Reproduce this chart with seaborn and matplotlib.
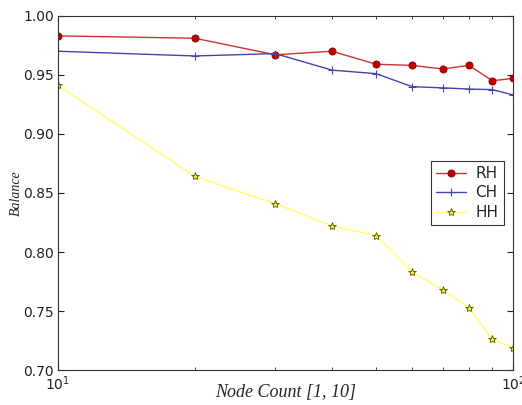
import matplotlib
matplotlib.use("Agg")
import matplotlib.pyplot as plt
import matplotlib.ticker as mticker
import seaborn as sns
import pandas as pd

nodes = [10, 20, 30, 40, 50, 60, 70, 80, 90, 100]
rh = [0.983, 0.981, 0.967, 0.970, 0.959, 0.958, 0.955, 0.958, 0.945, 0.947]
ch = [0.970, 0.966, 0.968, 0.954, 0.951, 0.940, 0.939, 0.938, 0.9375, 0.933]
hh = [0.941, 0.864, 0.841, 0.822, 0.814, 0.783, 0.768, 0.753, 0.726, 0.719]
yticks = [0.70, 0.75, 0.80, 0.85, 0.90, 0.95, 1.00]

sns.set_style("white", {"xtick.direction": "in", "ytick.direction": "in",
                        "axes.edgecolor": "#333333", "xtick.bottom": True,
                        "ytick.left": True, "xtick.top": True, "ytick.right": True})
plt.rcParams["font.family"] = ["DejaVu Sans"]

fig, ax = plt.subplots(figsize=(5.22, 4.05), dpi=100)
fig.subplots_adjust(left=0.111, right=0.983, top=0.961, bottom=0.086)

df = pd.DataFrame({"n": nodes, "RH": rh, "CH": ch, "HH": hh})

sns.lineplot(data=df, x="n", y="RH", ax=ax, color="#cc3333", marker="o",
             markersize=5, markerfacecolor="#bb0000", markeredgecolor="#990000",
             linewidth=1.0, label="RH")
sns.lineplot(data=df, x="n", y="CH", ax=ax, color="#4444aa", marker="+",
             markersize=6, markeredgecolor="#4444aa", markeredgewidth=0.8,
             linewidth=1.0, label="CH")
sns.lineplot(data=df, x="n", y="HH", ax=ax, color="#ffff66", marker="*",
             markersize=6, markerfacecolor="#eeee44", markeredgecolor="#555500",
             markeredgewidth=0.6, linewidth=1.0, label="HH")

ax.set_xscale("log")
ax.set_xlim(10, 100)
ax.set_ylim(0.70, 1.00)
ax.xaxis.set_minor_formatter(mticker.NullFormatter())
ax.set_yticks(yticks)
ax.set_yticklabels([f"{v:.2f}" for v in yticks])
ax.tick_params(which="both", direction="in", top=True, right=True, labelsize=10,
               colors="#222222")
ax.tick_params(which="major", length=4, pad=3)
ax.tick_params(which="minor", length=2)
ax.set_xlabel("Node Count [1, 10]", family="Liberation Serif", style="italic",
              fontsize=13)
ax.set_ylabel("Balance", family="Liberation Serif", style="italic", fontsize=10)
ax.xaxis.set_label_coords(0.5, -0.040)
ax.yaxis.set_label_coords(-0.078, 0.5)

leg = ax.legend(loc="center right", fontsize=11, frameon=True, fancybox=False,
                edgecolor="black", borderaxespad=0.6, handlelength=2.0,
                labelspacing=0.3, borderpad=0.35, handletextpad=0.6)
leg.get_frame().set_linewidth(0.8)

fig.savefig("out.png", dpi=100)
